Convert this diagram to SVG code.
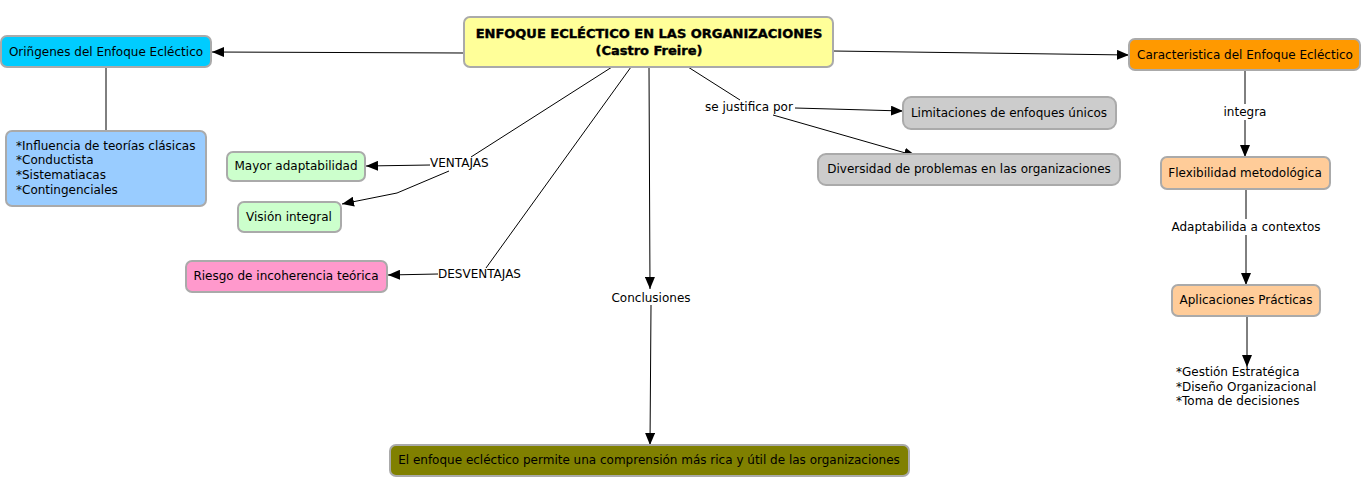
<svg xmlns="http://www.w3.org/2000/svg" width="1363" height="478" viewBox="0 0 1363 478">
<defs>
<marker id="ah" viewBox="0 0 12 10" refX="12" refY="5" markerWidth="12" markerHeight="10" markerUnits="userSpaceOnUse" orient="auto">
<path d="M0,0 L12,5 L0,10 z" fill="#000"/>
</marker>
<style>
.n{stroke:#aaaaaa;stroke-width:2}
.t{font-family:"DejaVu Sans",Verdana,sans-serif;font-size:12px;fill:#000;text-anchor:middle;dominant-baseline:central}
.l{font-family:"DejaVu Sans",Verdana,sans-serif;font-size:12px;fill:#000}
.b{font-family:"DejaVu Sans",Verdana,sans-serif;font-size:13px;font-weight:bold;fill:#000;text-anchor:middle;dominant-baseline:central;stroke:#000;stroke-width:0.4px}
.c{fill:none;stroke:#000;stroke-width:1}
.a{fill:none;stroke:#000;stroke-width:1;marker-end:url(#ah)}
.h{paint-order:stroke;stroke:#fff;stroke-width:4px}
</style>
</defs>
<rect width="1363" height="478" fill="#fff"/>
<g id="connectors">
<line class="a" x1="464" y1="53" x2="212" y2="52"/>
<line class="a" x1="833" y1="51" x2="1129" y2="55"/>
<line class="c" x1="106" y1="68" x2="106" y2="130"/>
<line class="c" x1="612" y1="67" x2="471" y2="157"/>
<line class="a" x1="430" y1="165" x2="366" y2="166"/>
<polyline class="a" points="449,171 397,193 342,204"/>
<line class="c" x1="631" y1="67" x2="486" y2="268"/>
<line class="a" x1="438" y1="274" x2="388" y2="275"/>
<line class="a" x1="649" y1="67" x2="650" y2="289"/>
<line class="a" x1="651" y1="305" x2="650" y2="445"/>
<line class="c" x1="688" y1="67" x2="740" y2="100"/>
<line class="a" x1="795" y1="108" x2="903" y2="111"/>
<line class="a" x1="773" y1="115" x2="916" y2="156"/>
<line class="c" x1="1245" y1="70" x2="1245" y2="104"/>
<line class="a" x1="1245" y1="120" x2="1245" y2="157"/>
<line class="c" x1="1246" y1="190" x2="1246" y2="219"/>
<line class="a" x1="1246" y1="235" x2="1246" y2="285"/>
<line class="a" x1="1247" y1="317" x2="1247" y2="367"/>
</g>
<g id="lbl-ventajas"><text class="l" x="430" y="167">VENTAJAS</text></g>
<g id="lbl-desventajas"><text class="l" x="438" y="278">DESVENTAJAS</text></g>
<g id="lbl-conclusiones"><text class="t" x="651" y="298">Conclusiones</text></g>
<g id="lbl-justifica"><text class="l" x="705" y="111">se justifica por</text></g>
<g id="lbl-integra"><text class="t h" x="1245" y="112">integra</text></g>
<g id="lbl-adapt"><text class="t h" x="1246" y="227">Adaptabilida a contextos</text></g>
<g id="main">
<rect class="n" x="464" y="17" width="369" height="50" rx="6" fill="#ffff99" stroke="#cccccc"/>
<text class="b" x="649" y="33">ENFOQUE ECLÉCTICO EN LAS ORGANIZACIONES</text>
<text class="b" x="649" y="50">(Castro Freire)</text>
</g>
<g id="origenes">
<rect class="n" x="1" y="36" width="210" height="31" rx="6" fill="#00ccff" stroke="#aadde8"/>
<text class="t" x="106" y="52">Oriñgenes del Enfoque Ecléctico</text>
</g>
<g id="origenes-list">
<rect class="n" x="6" y="131" width="200" height="75" rx="6" fill="#99ccff" stroke="#c8dff0"/>
<text class="l" x="16" y="150">*Influencia de teorías clásicas</text>
<text class="l" x="16" y="164">*Conductista</text>
<text class="l" x="16" y="179">*Sistematiacas</text>
<text class="l" x="16" y="194">*Contingenciales</text>
</g>
<g id="mayor">
<rect class="n" x="227" y="152" width="138" height="29" rx="6" fill="#ccffcc" stroke="#999999"/>
<text class="t" x="296" y="166">Mayor adaptabilidad</text>
</g>
<g id="vision">
<rect class="n" x="238" y="202" width="103" height="30" rx="6" fill="#ccffcc" stroke="#999999"/>
<text class="t" x="289" y="217">Visión integral</text>
</g>
<g id="riesgo">
<rect class="n" x="186" y="261" width="201" height="31" rx="6" fill="#ff99cc" stroke="#999999"/>
<text class="t" x="286" y="276">Riesgo de incoherencia teórica</text>
</g>
<g id="limitaciones">
<rect class="n" x="903" y="97" width="213" height="32" rx="8" fill="#cccccc" stroke="#dddddd"/>
<text class="t" x="1009" y="113">Limitaciones de enfoques únicos</text>
</g>
<g id="diversidad">
<rect class="n" x="818" y="154" width="302" height="31" rx="8" fill="#cccccc" stroke="#dddddd"/>
<text class="t" x="969" y="169">Diversidad de problemas en las organizaciones</text>
</g>
<g id="caracteristica">
<rect class="n" x="1129" y="39" width="231" height="31" rx="6" fill="#ff9900" stroke="#e8c8a0"/>
<text class="t" x="1245" y="55">Caracteristica del Enfoque Ecléctico</text>
</g>
<g id="flexibilidad">
<rect class="n" x="1161" y="157" width="169" height="32" rx="6" fill="#ffcc99" stroke="#e0d4c8"/>
<text class="t" x="1245" y="173">Flexibilidad metodológica</text>
</g>
<g id="aplicaciones">
<rect class="n" x="1172" y="285" width="148" height="31" rx="6" fill="#ffcc99" stroke="#e0d4c8"/>
<text class="t" x="1246" y="300">Aplicaciones Prácticas</text>
</g>
<g id="aplicaciones-list">
<text class="l" x="1176" y="376">*Gestión Estratégica</text>
<text class="l" x="1176" y="391">*Diseño Organizacional</text>
<text class="l" x="1176" y="405">*Toma de decisiones</text>
</g>
<g id="conclusion">
<rect class="n" x="390" y="445" width="519" height="31" rx="6" fill="#808000" stroke="#aaaaaa"/>
<text class="t" x="649" y="460">El enfoque ecléctico permite una comprensión más rica y útil de las organizaciones</text>
</g>
</svg>
